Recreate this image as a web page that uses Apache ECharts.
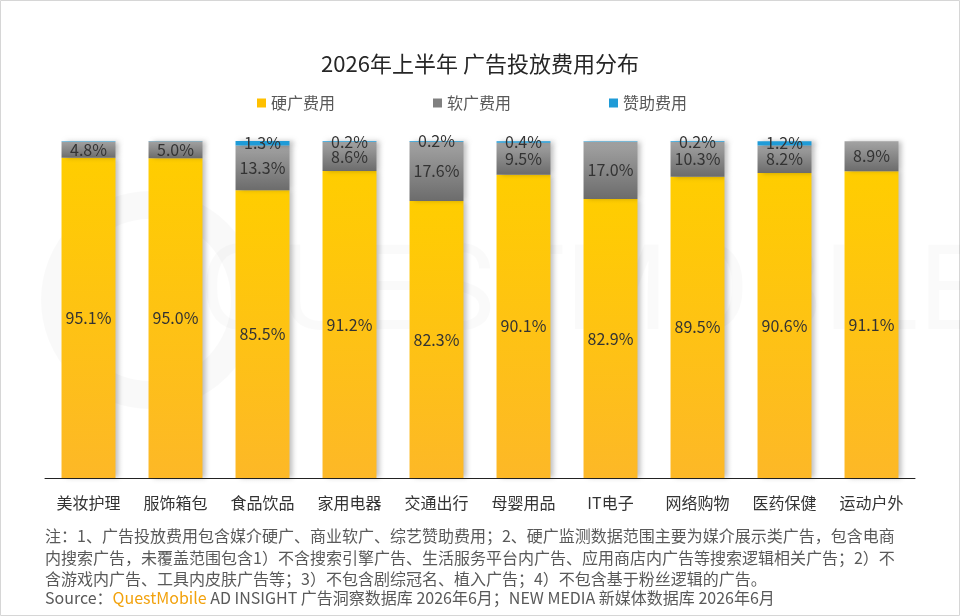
<!DOCTYPE html>
<html>
<head>
<meta charset="utf-8">
<script src="https://cdn.jsdelivr.net/npm/echarts@6/dist/echarts.min.js"></script>
<style>
html,body{margin:0;padding:0;background:#fff;}
#chart{width:960px;height:616px;}
</style>
</head>
<body>
<div id="chart"></div>
<script>
const categories = ['美妆护理','服饰箱包','食品饮品','家用电器','交通出行','母婴用品','IT电子','网络购物','医药保健','运动户外'];
const hardAd = [95.1, 95.0, 85.5, 91.2, 82.3, 90.1, 82.9, 89.5, 90.6, 91.1];
const softAd = [4.8, 5.0, 13.3, 8.6, 17.6, 9.5, 17.0, 10.3, 8.2, 8.9];
const sponsor = [0.1, 0.1, 1.3, 0.2, 0.2, 0.4, 0.1, 0.2, 1.2, 0];
const sponsorLabelShown = [false, false, true, true, true, true, false, true, true, false];
const seriesNames = ['硬广费用','软广费用','赞助费用'];
const titleText = '2026年上半年 广告投放费用分布';
const noteLines = [
  '注：1、广告投放费用包含媒介硬广、商业软广、综艺赞助费用；2、硬广监测数据范围主要为媒介展示类广告，包含电商',
  '内搜索广告，未覆盖范围包含1）不含搜索引擎广告、生活服务平台内广告、应用商店内广告等搜索逻辑相关广告；2）不',
  '含游戏内广告、工具内皮肤广告等；3）不包含剧综冠名、植入广告；4）不包含基于粉丝逻辑的广告。'
];

const FONT = '"Noto Sans CJK SC", "Noto Sans", sans-serif';
const chart = echarts.init(document.getElementById('chart'));

const shadow = {shadowColor:'rgba(0,0,0,0.25)', shadowBlur:5, shadowOffsetX:4, shadowOffsetY:0};
const yellowGrad = new echarts.graphic.LinearGradient(0,0,0,1,[{offset:0,color:'#FFCD00'},{offset:1,color:'#FDB827'}]);
const grayGrad = new echarts.graphic.LinearGradient(0,0,0,1,[{offset:0,color:'#A3A3A3'},{offset:1,color:'#6C6C6C'}]);
const pct = p => p.value.toFixed(1) + '%';
const labelBase = {show:true, position:'inside', color:'#333', fontSize:16, fontFamily:FONT, formatter:pct};

const graphics = [
  {type:'rect', shape:{x:0.5,y:0.5,width:959,height:615}, style:{fill:'none', stroke:'#d6d6d6', lineWidth:1}, z:0},
  {type:'text', left:200, top:240, style:{text:'QUESTMOBILE', fontSize:118, fontFamily:'Roboto, sans-serif', fill:'rgba(0,0,0,0.018)'}, z:0},
  {type:'circle', shape:{cx:150, cy:300, r:95}, style:{fill:'none', stroke:'rgba(0,0,0,0.022)', lineWidth:28}, z:0}
];
noteLines.forEach((t,i)=>{
  graphics.push({type:'text', left:45, top:528 + i*21.5, style:{text:t, fontSize:16, fontFamily:FONT, fill:'#595959'}, z:10});
});
graphics.push({type:'text', left:45, top:590, style:{
  text:'{a|Source：}{b|QuestMobile}{a| AD INSIGHT 广告洞察数据库 2026年6月；NEW MEDIA 新媒体数据库 2026年6月}',
  rich:{a:{fontSize:16, fontFamily:FONT, fill:'#595959'}, b:{fontSize:16, fontFamily:FONT, fill:'#F2A20D'}}
}, z:10});

chart.setOption({
  animation:false,
  backgroundColor:'#fff',
  title:{text:titleText, left:'center', top:48, textStyle:{fontSize:22, fontWeight:'normal', color:'#262626', fontFamily:FONT}},
  legend:{left:252, top:90, itemWidth:9, itemHeight:9, itemGap:98, icon:'rect',
    textStyle:{fontSize:16, color:'#595959', fontFamily:FONT},
    data:[{name:seriesNames[0], itemStyle:{color:'#FFC000'}},{name:seriesNames[1], itemStyle:{color:'#808080'}},{name:seriesNames[2], itemStyle:{color:'#1F9BD7'}}]},
  grid:{left:45, right:45, top:141, bottom:138},
  xAxis:{type:'category', data:categories,
    axisLine:{lineStyle:{color:'#222', width:1}}, axisTick:{show:false},
    axisLabel:{fontSize:16, color:'#333', fontFamily:FONT, margin:17}},
  yAxis:{type:'value', min:0, max:100.1, show:false, splitLine:{show:false}},
  graphic:graphics,
  series:[
    {name:seriesNames[0], type:'bar', stack:'s', barCategoryGap:'38%', data:hardAd,
      itemStyle:Object.assign({color:yellowGrad}, shadow), label:labelBase},
    {name:seriesNames[1], type:'bar', stack:'s', data:softAd,
      itemStyle:Object.assign({color:grayGrad}, shadow), label:labelBase},
    {name:seriesNames[2], type:'bar', stack:'s',
      data:sponsor.map((v,i)=>({value:v, label:{show:sponsorLabelShown[i]}})),
      itemStyle:Object.assign({color:'#1F9BD7'}, shadow), label:labelBase}
  ]
});
</script>
</body>
</html>
